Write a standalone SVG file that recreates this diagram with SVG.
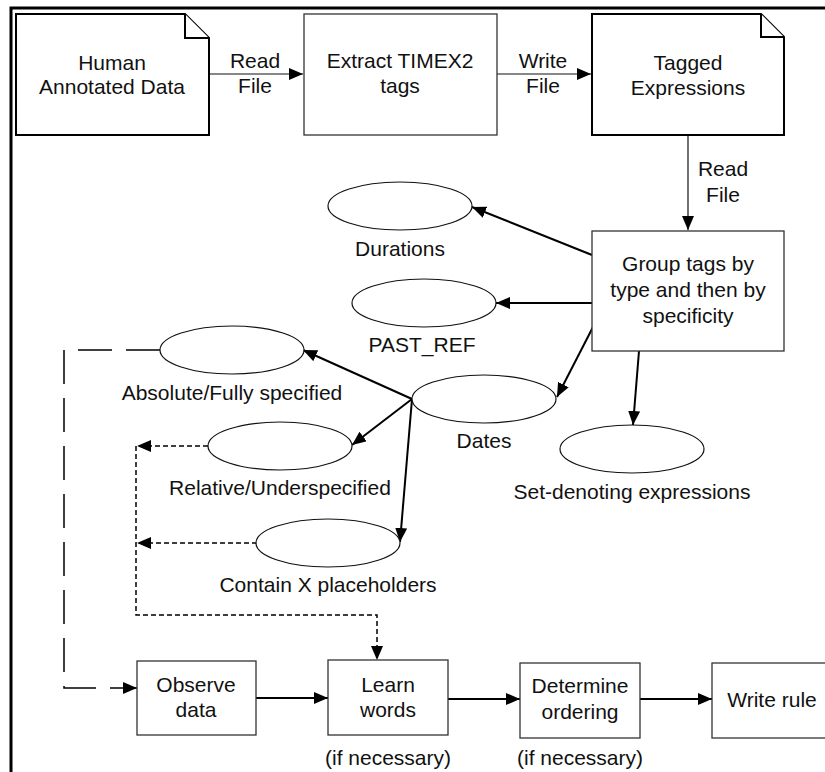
<svg xmlns="http://www.w3.org/2000/svg" width="825" height="772" viewBox="0 0 825 772">
<style>
text{font-family:"Liberation Sans",Arial,sans-serif;font-size:21px;fill:#111;text-anchor:middle}
.note{fill:#fff;stroke:#000;stroke-width:2}
.box{fill:#fff;stroke:#333;stroke-width:1.3}
.ell{fill:#fff;stroke:#111;stroke-width:1.2}
.thin{fill:none;stroke:#111;stroke-width:1.2}
.thick{fill:none;stroke:#000;stroke-width:2}
.sdash{fill:none;stroke:#000;stroke-width:1.5;stroke-dasharray:5,3}
.ldash{fill:none;stroke:#000;stroke-width:1.5;stroke-dasharray:34,14}
</style>
<defs>
<marker id="ah" viewBox="0 0 14 12" refX="14" refY="6" markerWidth="14" markerHeight="12" markerUnits="userSpaceOnUse" orient="auto"><path d="M0,0 L14,6 L0,12 z" fill="#000"/></marker>
</defs>
<rect width="825" height="772" fill="#fff"/>
<rect x="11" y="8" width="900" height="900" fill="none" stroke="#000" stroke-width="3"/>

<g id="connectors">
<line class="thin" x1="209" y1="74" x2="303" y2="74" marker-end="url(#ah)"/>
<line class="thin" x1="497" y1="74" x2="591" y2="74" marker-end="url(#ah)"/>
<line class="thin" x1="688" y1="135" x2="688" y2="230" marker-end="url(#ah)"/>
<line class="thick" x1="592" y1="255" x2="472" y2="207" marker-end="url(#ah)"/>
<line class="thick" x1="592" y1="303" x2="496" y2="303" marker-end="url(#ah)"/>
<line class="thick" x1="593" y1="327" x2="557" y2="397" marker-end="url(#ah)"/>
<line class="thick" x1="639" y1="351" x2="633" y2="425" marker-end="url(#ah)"/>
<line class="thick" x1="412" y1="399" x2="303" y2="350" marker-end="url(#ah)"/>
<line class="thick" x1="412" y1="399" x2="352" y2="445" marker-end="url(#ah)"/>
<line class="thick" x1="412" y1="399" x2="400" y2="542" marker-end="url(#ah)"/>
<line class="sdash" x1="208" y1="446" x2="137" y2="446" marker-end="url(#ah)"/>
<line class="sdash" x1="257" y1="543" x2="137" y2="543" marker-end="url(#ah)"/>
<path class="sdash" d="M136,446 V615 H377 V660" marker-end="url(#ah)"/>
<path class="ldash" d="M160,350 H64 V688 H137" marker-end="url(#ah)"/>
<line class="thick" x1="256" y1="698" x2="328" y2="698" marker-end="url(#ah)"/>
<line class="thick" x1="448" y1="699" x2="520" y2="699" marker-end="url(#ah)"/>
<line class="thick" x1="640" y1="699" x2="712" y2="699" marker-end="url(#ah)"/>
<text x="255" y="68">Read</text><text x="255" y="93">File</text>
<text x="543" y="68">Write</text><text x="543" y="93">File</text>
<text x="723" y="176">Read</text><text x="723" y="202">File</text>
</g>

<g id="human">
<path class="note" d="M16,14 H185 L209,38 V135 H16 Z"/>
<path class="note" d="M185,14 V38 H209" fill="none"/>
<text x="112" y="70">Human</text><text x="112" y="94">Annotated Data</text>
</g>
<g id="extract">
<rect class="box" x="304" y="14" width="193" height="121"/>
<text x="400" y="68">Extract TIMEX2</text><text x="400" y="93">tags</text>
</g>
<g id="tagged">
<path class="note" d="M592,14 H761 L784,37 V135 H592 Z"/>
<path class="note" d="M761,14 V37 H784" fill="none"/>
<text x="688" y="70">Tagged</text><text x="688" y="95">Expressions</text>
</g>
<g id="group">
<rect class="box" x="592" y="231" width="192" height="120"/>
<text x="688" y="271">Group tags by</text><text x="688" y="297">type and then by</text><text x="688" y="323">specificity</text>
</g>
<g id="durations">
<ellipse class="ell" cx="400" cy="206" rx="72" ry="24"/>
<text x="400" y="256">Durations</text>
</g>
<g id="pastref">
<ellipse class="ell" cx="424" cy="303" rx="72" ry="24"/>
<text x="422" y="352">PAST_REF</text>
</g>
<g id="absolute">
<ellipse class="ell" cx="232" cy="350" rx="72" ry="24"/>
<text x="232" y="400">Absolute/Fully specified</text>
</g>
<g id="dates">
<ellipse class="ell" cx="484" cy="399" rx="72" ry="24"/>
<text x="484" y="448">Dates</text>
</g>
<g id="setdenoting">
<ellipse class="ell" cx="632" cy="449" rx="72" ry="24"/>
<text x="632" y="499">Set-denoting expressions</text>
</g>
<g id="relative">
<ellipse class="ell" cx="280" cy="446" rx="72" ry="24"/>
<text x="280" y="495">Relative/Underspecified</text>
</g>
<g id="containx">
<ellipse class="ell" cx="328" cy="543" rx="72" ry="24"/>
<text x="328" y="592">Contain X placeholders</text>
</g>
<g id="observe">
<rect class="box" x="137" y="661" width="119" height="74"/>
<text x="196" y="692">Observe</text><text x="196" y="717">data</text>
</g>
<g id="learn">
<rect class="box" x="328" y="660" width="120" height="75"/>
<text x="388" y="692">Learn</text><text x="388" y="717">words</text>
<text x="388" y="765">(if necessary)</text>
</g>
<g id="determine">
<rect class="box" x="520" y="663" width="120" height="75"/>
<text x="580" y="693">Determine</text><text x="580" y="719">ordering</text>
<text x="580" y="765">(if necessary)</text>
</g>
<g id="writerule">
<rect class="box" x="712" y="663" width="120" height="75"/>
<text x="772" y="707">Write rule</text>
</g>
</svg>
